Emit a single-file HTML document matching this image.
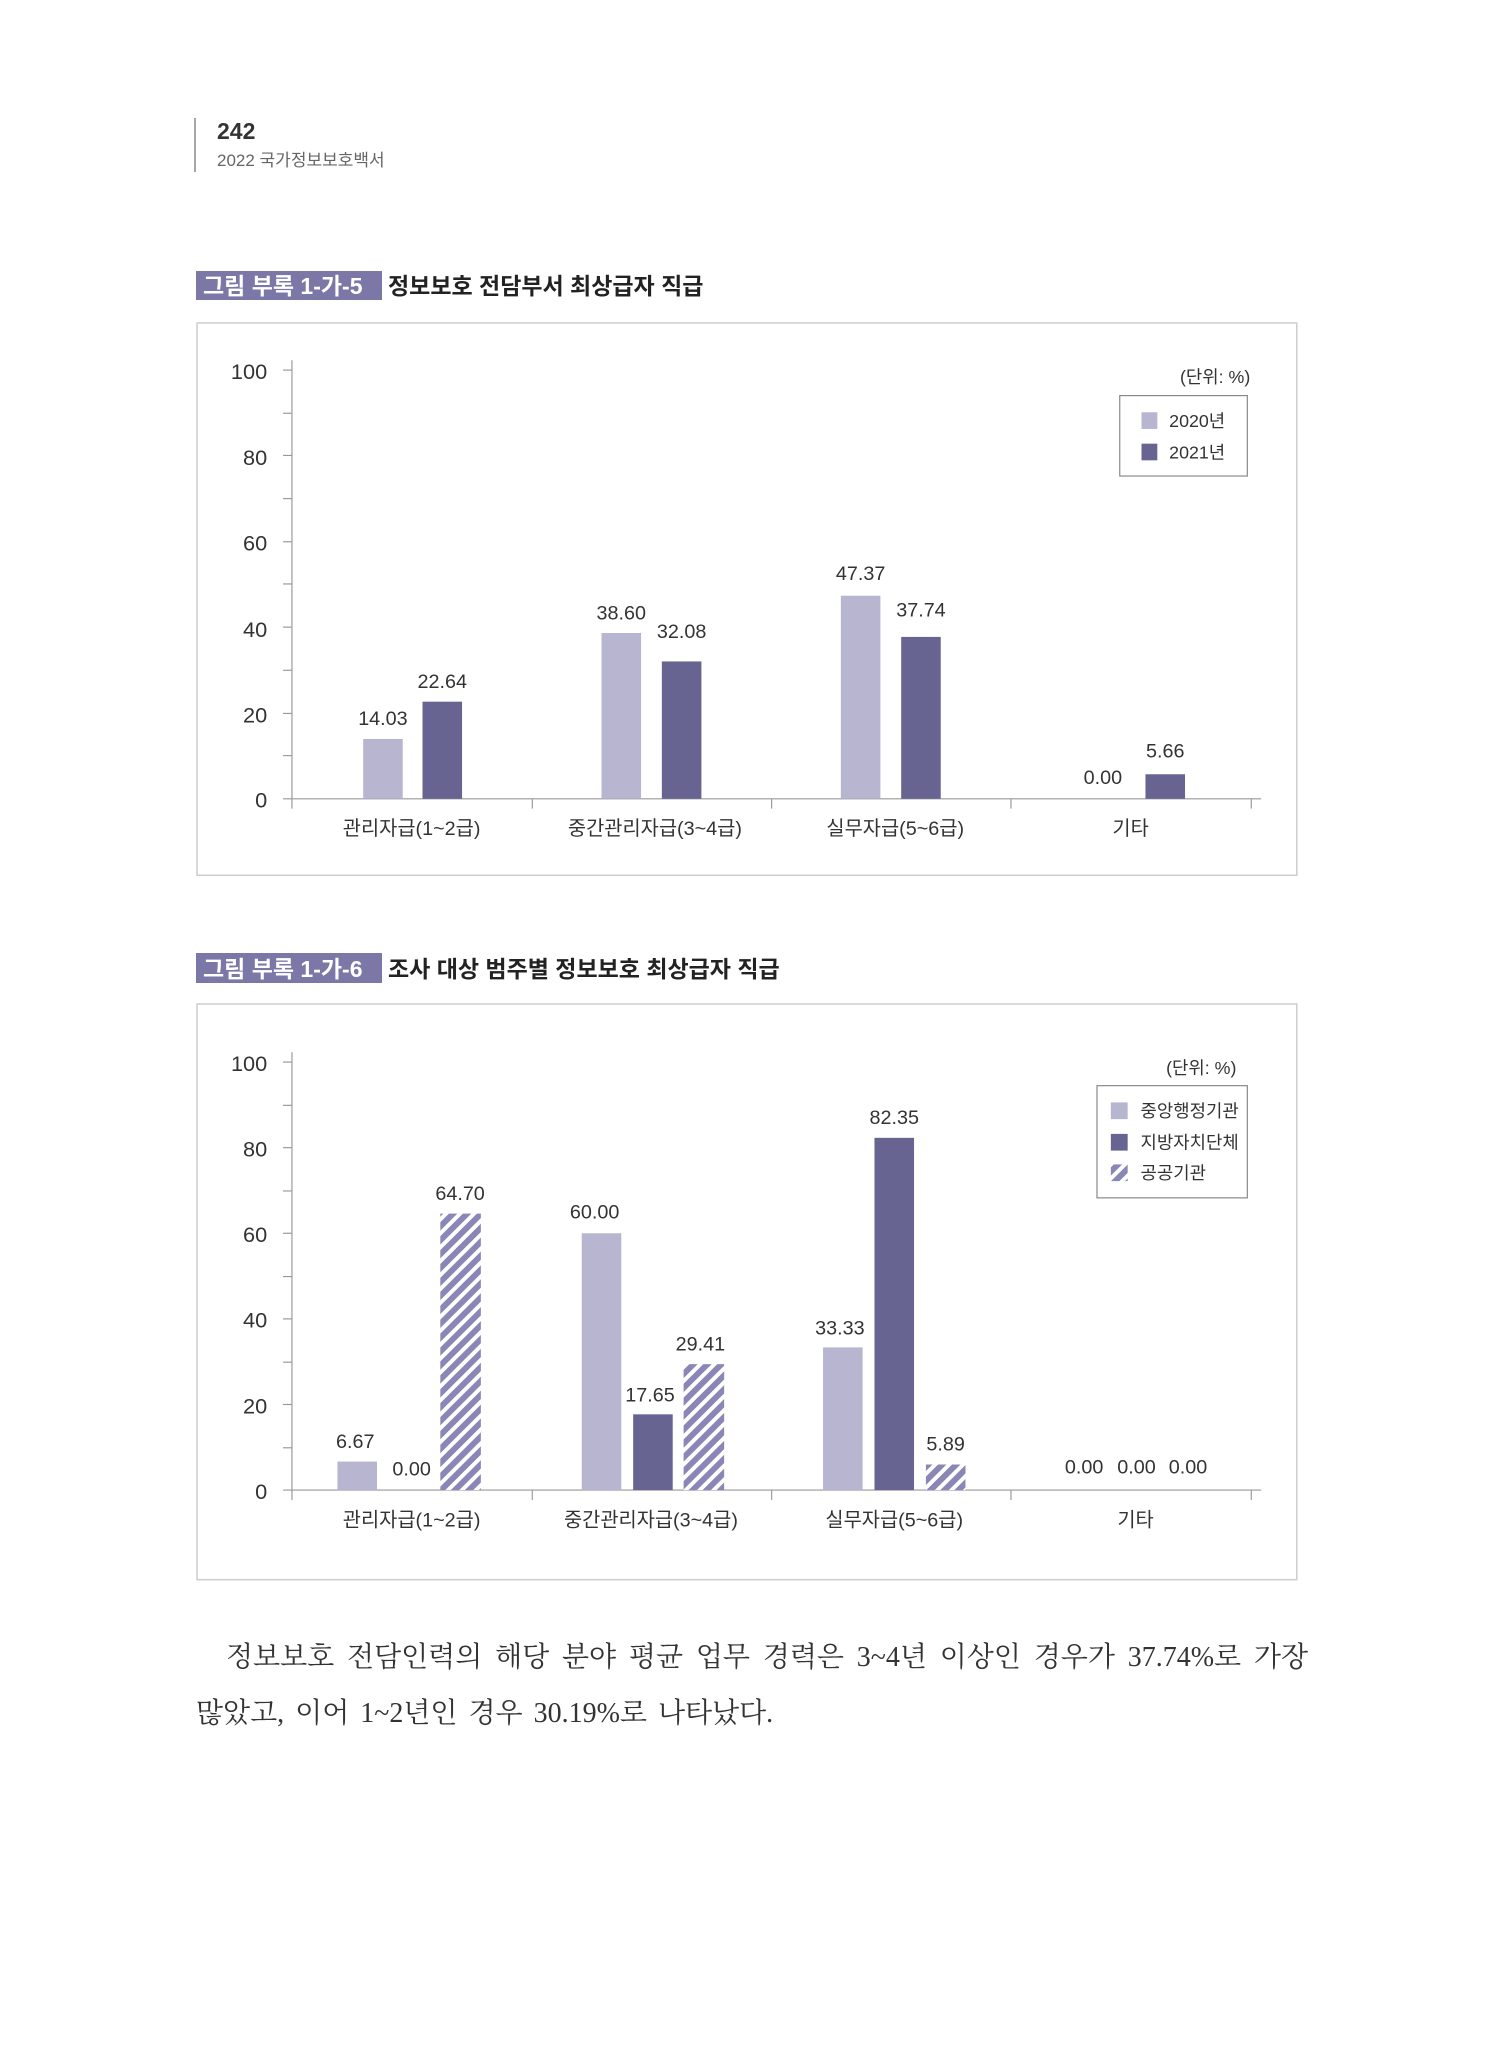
<!DOCTYPE html>
<html><head><meta charset="utf-8"><style>
html,body{margin:0;padding:0;background:#fff;}
body{width:1497px;height:2048px;position:relative;overflow:hidden;font-family:"Liberation Sans","Noto Sans CJK KR",sans-serif;}
.p{position:absolute;top:1630px;left:196px;width:1112px;font-family:"Liberation Serif","Noto Serif CJK SC",serif;font-size:28px;line-height:56px;color:#333;text-align:justify;text-align-last:left;text-indent:30px;word-spacing:4px;word-break:keep-all;}
</style></head><body>
<svg width="1497" height="2048" style="position:absolute;left:0;top:0" font-family="Liberation Sans, Noto Sans CJK KR, sans-serif">
<defs>
<pattern id="h" patternUnits="userSpaceOnUse" width="10" height="10" patternTransform="rotate(45)">
<rect width="10" height="10" fill="#fff"/><rect width="6" height="10" fill="#8a86b5"/>
</pattern>
</defs>
<line x1="195" y1="118" x2="195" y2="172" stroke="#888" stroke-width="1.5"/>
<text x="217" y="139" font-size="23" font-weight="bold" fill="#333">242</text>
<text x="217" y="166" font-size="17" fill="#666">2022 국가정보보호백서</text>

<!-- chart 1 -->
<rect x="196" y="271" width="186" height="29" fill="#7b77a6"/>
<text x="203" y="294" font-size="23" font-weight="bold" fill="#fff">그림 부록 1-가-5</text>
<text x="388" y="294" font-size="23" font-weight="bold" fill="#222">정보보호 전담부서 최상급자 직급</text>
<g transform="translate(198,323) scale(0.989,0.981) translate(-198,-324)">
<rect x="197" y="324" width="1112" height="563" fill="none" stroke="#ccc" stroke-width="1.5"/>
<g stroke="#999" stroke-width="1.2">
<line x1="293" y1="362" x2="293" y2="809"/><line x1="284" y1="809" x2="1273" y2="809"/>
<line x1="284" y1="372" x2="293" y2="372"/><line x1="284" y1="416" x2="293" y2="416"/><line x1="284" y1="459" x2="293" y2="459"/><line x1="284" y1="503" x2="293" y2="503"/><line x1="284" y1="547" x2="293" y2="547"/><line x1="284" y1="590" x2="293" y2="590"/><line x1="284" y1="634" x2="293" y2="634"/><line x1="284" y1="678" x2="293" y2="678"/><line x1="284" y1="722" x2="293" y2="722"/><line x1="284" y1="765" x2="293" y2="765"/>
<line x1="293" y1="809" x2="293" y2="819"/><line x1="536" y1="809" x2="536" y2="819"/><line x1="778" y1="809" x2="778" y2="819"/><line x1="1020" y1="809" x2="1020" y2="819"/><line x1="1263" y1="809" x2="1263" y2="819"/>
</g>
<g font-size="22" fill="#333" text-anchor="end">
<text x="268" y="381">100</text><text x="268" y="469">80</text><text x="268" y="556">60</text><text x="268" y="644">40</text><text x="268" y="731">20</text><text x="268" y="818">0</text>
</g>
<g fill="#b7b5d0"><rect x="365" y="748" width="40" height="61"/><rect x="606" y="640" width="40" height="169"/><rect x="848" y="602" width="40" height="207"/></g>
<g fill="#676491"><rect x="425" y="710" width="40" height="99"/><rect x="667" y="669" width="40" height="140"/><rect x="909" y="644" width="40" height="165"/><rect x="1156" y="784" width="40" height="25"/></g>
<g font-size="20" fill="#333" text-anchor="middle">
<text x="385" y="734">14.03</text><text x="445" y="696">22.64</text>
<text x="626" y="626">38.60</text><text x="687" y="645">32.08</text>
<text x="868" y="586">47.37</text><text x="929" y="623">37.74</text>
<text x="1113" y="794">0.00</text><text x="1176" y="767">5.66</text>
</g>
<g font-size="20" fill="#333" text-anchor="middle">
<text x="414" y="846">관리자급(1~2급)</text><text x="660" y="846">중간관리자급(3~4급)</text><text x="903" y="846">실무자급(5~6급)</text><text x="1141" y="846">기타</text>
</g>
<text x="1262" y="385" font-size="18" fill="#333" text-anchor="end">(단위: %)</text>
<rect x="1130" y="398" width="129" height="82" fill="#fff" stroke="#888" stroke-width="1.2"/>
<rect x="1152" y="415" width="16" height="17" fill="#b7b5d0"/><text x="1180" y="430" font-size="18" fill="#333">2020년</text>
<rect x="1152" y="447" width="16" height="17" fill="#676491"/><text x="1180" y="462" font-size="18" fill="#333">2021년</text>
</g>

<!-- chart 2 -->
<rect x="196" y="953" width="186" height="30" fill="#7b77a6"/>
<text x="203" y="977" font-size="23" font-weight="bold" fill="#fff">그림 부록 1-가-6</text>
<text x="388" y="977" font-size="23" font-weight="bold" fill="#222">조사 대상 범주별 정보보호 최상급자 직급</text>
<g transform="translate(198,1004) scale(0.989,0.984) translate(-198,-1004)">
<rect x="197" y="1004" width="1112" height="585" fill="none" stroke="#ccc" stroke-width="1.5"/>
<g stroke="#999" stroke-width="1.2">
<line x1="293" y1="1053" x2="293" y2="1498"/><line x1="284" y1="1498" x2="1273" y2="1498"/>
<line x1="284" y1="1063" x2="293" y2="1063"/><line x1="284" y1="1107" x2="293" y2="1107"/><line x1="284" y1="1150" x2="293" y2="1150"/><line x1="284" y1="1194" x2="293" y2="1194"/><line x1="284" y1="1237" x2="293" y2="1237"/><line x1="284" y1="1281" x2="293" y2="1281"/><line x1="284" y1="1324" x2="293" y2="1324"/><line x1="284" y1="1368" x2="293" y2="1368"/><line x1="284" y1="1411" x2="293" y2="1411"/><line x1="284" y1="1455" x2="293" y2="1455"/>
<line x1="293" y1="1498" x2="293" y2="1508"/><line x1="536" y1="1498" x2="536" y2="1508"/><line x1="778" y1="1498" x2="778" y2="1508"/><line x1="1020" y1="1498" x2="1020" y2="1508"/><line x1="1263" y1="1498" x2="1263" y2="1508"/>
</g>
<g font-size="22" fill="#333" text-anchor="end">
<text x="268" y="1072">100</text><text x="268" y="1159">80</text><text x="268" y="1246">60</text><text x="268" y="1333">40</text><text x="268" y="1420">20</text><text x="268" y="1507">0</text>
</g>
<g fill="#b7b5d0"><rect x="339" y="1469" width="40" height="29"/><rect x="586" y="1237" width="40" height="261"/><rect x="830" y="1353" width="40" height="145"/></g>
<g fill="#676491"><rect x="638" y="1421" width="40" height="77"/><rect x="882" y="1140" width="40" height="358"/></g>
<g fill="url(#h)"><rect x="443" y="1217" width="41" height="281"/><rect x="689" y="1370" width="41" height="128"/><rect x="934" y="1472" width="40" height="26"/></g>
<g font-size="20" fill="#333" text-anchor="middle">
<text x="357" y="1455">6.67</text><text x="414" y="1483">0.00</text><text x="463" y="1203">64.70</text>
<text x="599" y="1222">60.00</text><text x="655" y="1408">17.65</text><text x="706" y="1356">29.41</text>
<text x="847" y="1340">33.33</text><text x="902" y="1126">82.35</text><text x="954" y="1458">5.89</text>
<text x="1094" y="1481">0.00</text><text x="1147" y="1481">0.00</text><text x="1199" y="1481">0.00</text>
</g>
<g font-size="20" fill="#333" text-anchor="middle">
<text x="414" y="1535">관리자급(1~2급)</text><text x="656" y="1535">중간관리자급(3~4급)</text><text x="902" y="1535">실무자급(5~6급)</text><text x="1146" y="1535">기타</text>
</g>
<text x="1248" y="1075" font-size="18" fill="#333" text-anchor="end">(단위: %)</text>
<rect x="1107" y="1087" width="152" height="114" fill="#fff" stroke="#888" stroke-width="1.2"/>
<rect x="1121" y="1104" width="17" height="17" fill="#b7b5d0"/><text x="1151" y="1119" font-size="18" fill="#333">중앙행정기관</text>
<rect x="1121" y="1136" width="17" height="17" fill="#676491"/><text x="1151" y="1151" font-size="18" fill="#333">지방자치단체</text>
<rect x="1121" y="1167" width="17" height="17" fill="url(#h)"/><text x="1151" y="1182" font-size="18" fill="#333">공공기관</text>
</g>
</svg>
<div class="p">정보보호 전담인력의 해당 분야 평균 업무 경력은 3~4년 이상인 경우가 37.74%로 가장 많았고, 이어 1~2년인 경우 30.19%로 나타났다.</div>
</body></html>
